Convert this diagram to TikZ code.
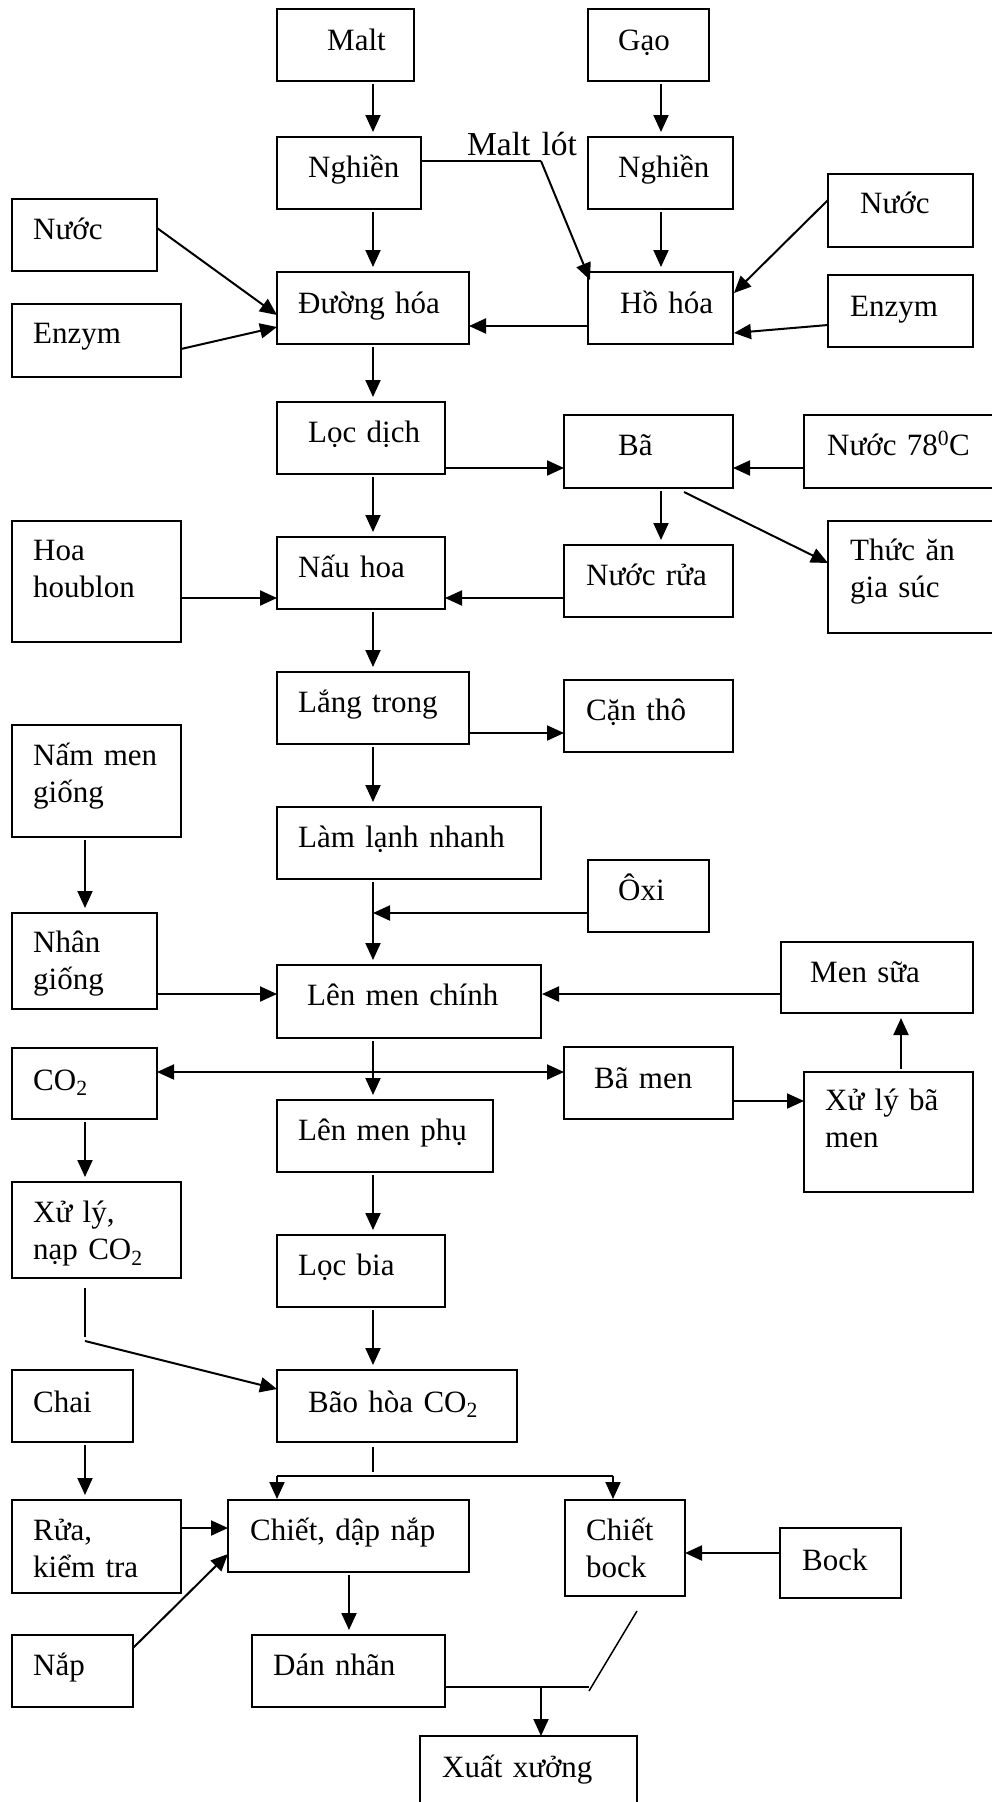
\documentclass[tikz,border=0pt]{standalone}
\usepackage{fontspec}
\setmainfont{Liberation Serif}
\usetikzlibrary{arrows.meta}
\tikzset{
  box/.style={draw, line width=1.5pt, inner sep=0pt, outer sep=0pt, rectangle},
  txt/.style={anchor=base west, inner sep=0pt, text width=260pt, align=left,
              font=\fontsize{31}{37.5}\selectfont},
  bigtxt/.style={txt, font=\fontsize{33.5}{40}\selectfont},
  arr/.style={line width=2pt, -{Triangle[length=17pt,width=15pt]}},
  darr/.style={line width=2pt, {Triangle[length=17pt,width=15pt]}-{Triangle[length=17pt,width=15pt]}},
  varr/.style={arr, shorten <=3pt, shorten >=5pt},
  thin/.style={line width=1.5pt}
}
\newcommand\bx[5]{\node[box, anchor=north west, minimum width={(#4-#2)*1pt}, minimum height={(#5-#3)*1pt}] (#1) at (#2,#3) {};}
\newcommand\tx[4]{\node[txt] (#1) at (#2,#3) {#4};}
\begin{document}
\begin{tikzpicture}[x=1pt,y=-1pt]
\useasboundingbox (0,0) rectangle (992,1802);
\clip (0,0) rectangle (992,1802);
% column coordinates
\coordinate (cA) at (373,0);
\coordinate (cB) at (661,0);
\coordinate (cL) at (85,0);
\coordinate (cX) at (901,0);
\coordinate (cD) at (349,0);
% boxes
\bx{malt}{277}{9}{414}{81}
\bx{gao}{588}{9}{709}{81}
\bx{ngh1}{277}{137}{421}{209}
\bx{ngh2}{588}{137}{733}{209}
\bx{nuoc1}{12}{199}{157}{271}
\bx{enz1}{12}{304}{181}{377}
\bx{duong}{277}{272}{469}{344}
\bx{ho}{588}{272}{733}{344}
\bx{nuoc2}{828}{174}{973}{247}
\bx{enz2}{828}{275}{973}{347}
\bx{loc}{277}{402}{445}{474}
\bx{ba}{564}{415}{733}{488}
\bx{nuoc78}{804}{415}{1004}{488}
\bx{hoa}{12}{521}{181}{642}
\bx{nau}{277}{537}{445}{609}
\bx{nuocrua}{564}{545}{733}{617}
\bx{thuc}{828}{521}{1004}{633}
\bx{lang}{277}{672}{469}{744}
\bx{can}{564}{680}{733}{752}
\bx{nammen}{12}{725}{181}{837}
\bx{lamlanh}{277}{807}{541}{879}
\bx{oxi}{588}{860}{709}{932}
\bx{nhan}{12}{913}{157}{1009}
\bx{chinh}{277}{965}{541}{1038}
\bx{mensua}{781}{942}{973}{1013}
\bx{co2}{12}{1048}{157}{1119}
\bx{bamen}{564}{1047}{733}{1119}
\bx{phu}{277}{1100}{493}{1172}
\bx{xulybm}{804}{1072}{973}{1192}
\bx{xuly}{12}{1182}{181}{1278}
\bx{locbia}{277}{1235}{445}{1307}
\bx{chai}{12}{1370}{133}{1442}
\bx{bao}{277}{1370}{517}{1442}
\bx{rua}{12}{1500}{181}{1593}
\bx{chiet}{228}{1500}{469}{1572}
\bx{chbock}{565}{1500}{685}{1596}
\bx{bock}{780}{1528}{901}{1598}
\bx{nap}{12}{1635}{133}{1707}
\bx{dan}{252}{1635}{445}{1707}
\bx{xuat}{420}{1736}{637}{1830}
% texts
\tx{tmalt}{327}{50}{Malt}
\tx{tgao}{618}{50}{Gạo}
\tx{tngh1}{308}{177}{Nghiền}
\tx{tngh2}{618}{177}{Nghiền}
\tx{tnuoc1}{33}{239}{Nước}
\tx{tenz1}{33}{343}{Enzym}
\tx{tduong}{298}{313}{Đường hóa}
\tx{tho}{620}{313}{Hồ hóa}
\tx{tnuoc2}{860}{213}{Nước}
\tx{tenz2}{850}{316}{Enzym}
\node[bigtxt] (tmaltlot) at (467,155) {Malt lót};
\tx{tloc}{308}{442}{Lọc dịch}
\tx{tba}{618}{455}{Bã}
\tx{tnuoc78}{827}{455}{Nước 78\textsuperscript{0}C}
\tx{thoa}{33}{560}{Hoa\\houblon}
\tx{tnau}{298}{577}{Nấu hoa}
\tx{tnuocrua}{586}{585}{Nước rửa}
\tx{tthuc}{850}{560}{Thức ăn\\gia súc}
\tx{tlang}{298}{712}{Lắng trong}
\tx{tcan}{586}{720}{Cặn thô}
\tx{tnammen}{33}{765}{Nấm men\\giống}
\tx{tlamlanh}{298}{847}{Làm lạnh nhanh}
\tx{toxi}{618}{900}{Ôxi}
\tx{tnhan}{33}{952}{Nhân\\giống}
\tx{tchinh}{307}{1005}{Lên men chính}
\tx{tmensua}{810}{982}{Men sữa}
\tx{tco2}{33}{1090}{CO\textsubscript{2}}
\tx{tbamen}{594}{1088}{Bã men}
\tx{tphu}{298}{1140}{Lên men phụ}
\tx{txulybm}{825}{1110}{Xử lý bã\\men}
\tx{txuly}{33}{1222}{Xử lý,\\nạp CO\textsubscript{2}}
\tx{tlocbia}{298}{1275}{Lọc bia}
\tx{tchai}{33}{1412}{Chai}
\tx{tbao}{308}{1412}{Bão hòa CO\textsubscript{2}}
\tx{trua}{33}{1540}{Rửa,\\kiểm tra}
\tx{tchiet}{250}{1540}{Chiết, dập nắp}
\tx{tchbock}{586}{1540}{Chiết\\bock}
\tx{tbock}{802}{1570}{Bock}
\tx{tnap}{33}{1675}{Nắp}
\tx{tdan}{273}{1675}{Dán nhãn}
\tx{txuat}{442}{1777}{Xuất xưởng}
% coordinates for bends and junctions
\coordinate (mlbend) at (541,161);
\coordinate (oxj) at (373,913);
\coordinate (xlbend) at (85,1337);
\coordinate (xlstart) at (85,1341);
\coordinate (split) at (373,1476);
\coordinate (splitL) at (277,1476);
\coordinate (splitR) at (613,1476);
\coordinate (bend) at (589,1687);
\coordinate (dtop) at (637,1611);
\coordinate (join) at (541,1687);
% vertical main arrows
\draw[varr] (malt.south -| cA) -- (ngh1.north -| cA);
\draw[varr] (gao.south -| cB) -- (ngh2.north -| cB);
\draw[varr] (ngh1.south -| cA) -- (duong.north -| cA);
\draw[varr] (ngh2.south -| cB) -- (ho.north -| cB);
\draw[varr] (duong.south -| cA) -- (loc.north -| cA);
\draw[varr] (loc.south -| cA) -- (nau.north -| cA);
\draw[varr] (ba.south -| cB) -- (nuocrua.north -| cB);
\draw[varr] (nau.south -| cA) -- (lang.north -| cA);
\draw[varr] (lang.south -| cA) -- (lamlanh.north -| cA);
\draw[varr] (nammen.south -| cL) -- (nhan.north -| cL);
\draw[varr] (lamlanh.south -| cA) -- (chinh.north -| cA);
\draw[varr] (chinh.south -| cA) -- (phu.north -| cA);
\draw[varr] (co2.south -| cL) -- (xuly.north -| cL);
\draw[varr] (phu.south -| cA) -- (locbia.north -| cA);
\draw[varr] (xulybm.north -| cX) -- (mensua.south -| cX);
\draw[varr] (locbia.south -| cA) -- (bao.north -| cA);
\draw[varr] (chai.south -| cL) -- (rua.north -| cL);
\draw[varr] (chiet.south -| cD) -- (dan.north -| cD);
% Malt lót
\draw[thin] ([yshift=12pt]ngh1.east) -- (mlbend);
\draw[arr] (mlbend) -- ([xshift=2pt,yshift=-8pt]ho.north west);
% inputs to Đường hóa / Hồ hóa
\draw[arr] ([yshift=7pt]nuoc1.east) -- ([yshift=-7pt]duong.west);
\draw[arr] ([yshift=-8.5pt]enz1.east) -- ([yshift=-19pt]duong.west);
\draw[arr] ([yshift=-18pt]ho.west) -- ([yshift=-18pt]duong.east);
\draw[arr] ([yshift=10.5pt]nuoc2.west) -- ([xshift=1pt,yshift=15pt]ho.east);
\draw[arr] ([yshift=-14pt]enz2.west) -- ([xshift=1pt,yshift=-25pt]ho.east);
% Lọc dịch / Bã
\draw[arr] ([yshift=-30pt]loc.east) -- ([yshift=-16.5pt]ba.west);
\draw[arr] ([yshift=-16.5pt]nuoc78.west) -- ([yshift=-16.5pt]ba.east);
\draw[arr] ([xshift=35.5pt,yshift=-4pt]ba.south) -- ([yshift=14pt]thuc.west);
% Nấu hoa
\draw[arr] ([yshift=-16.5pt]hoa.east) -- ([yshift=-25pt]nau.west);
\draw[arr] ([yshift=-17pt]nuocrua.west) -- ([yshift=-25pt]nau.east);
% Lắng trong -> Cặn thô
\draw[arr] ([yshift=-25pt]lang.east) -- ([yshift=-17pt]can.west);
% Ôxi
\draw[arr] ([yshift=-17pt]oxi.west) -- (oxj);
% Lên men chính
\draw[arr] ([yshift=-33pt]nhan.east) -- ([yshift=7.5pt]chinh.west);
\draw[arr] ([yshift=-16.5pt]mensua.west) -- ([xshift=1pt,yshift=7.5pt]chinh.east);
\draw[darr] ([yshift=11.5pt]co2.east) -- ([yshift=11pt]bamen.west);
\draw[arr] ([yshift=-18pt]bamen.east) -- ([yshift=31pt]xulybm.west);
% Xử lý, nạp CO2 -> Bão hòa
\draw[thin] ([yshift=-10pt]xuly.south -| cL) -- (xlbend);
\draw[arr] (xlstart) -- ([yshift=17pt]bao.west);
% Bão hòa split
\draw[thin] ([yshift=-5pt]bao.south -| cA) -- ([yshift=4pt]split);
\draw[thin] (splitL) -- (splitR);
\draw[arr] (splitL) -- ([yshift=1pt]chiet.north -| splitL);
\draw[arr] (splitR) -- ([yshift=1pt]chbock.north -| splitR);
% Chiết inputs
\draw[arr] ([yshift=18.5pt]rua.east) -- ([yshift=8pt]chiet.west);
\draw[arr] ([yshift=23pt]nap.east) -- ([yshift=-18pt]chiet.west);
\draw[arr] ([yshift=10pt]bock.west) -- ([yshift=-5pt]chbock.east);
% to Xuất xưởng
\draw[thin] ([yshift=-16pt]dan.east) -- (bend);
\draw[thin] (dtop) -- ([yshift=-4pt]bend);
\draw[arr] (join) -- (xuat.north -| join);
\end{tikzpicture}
\end{document}
